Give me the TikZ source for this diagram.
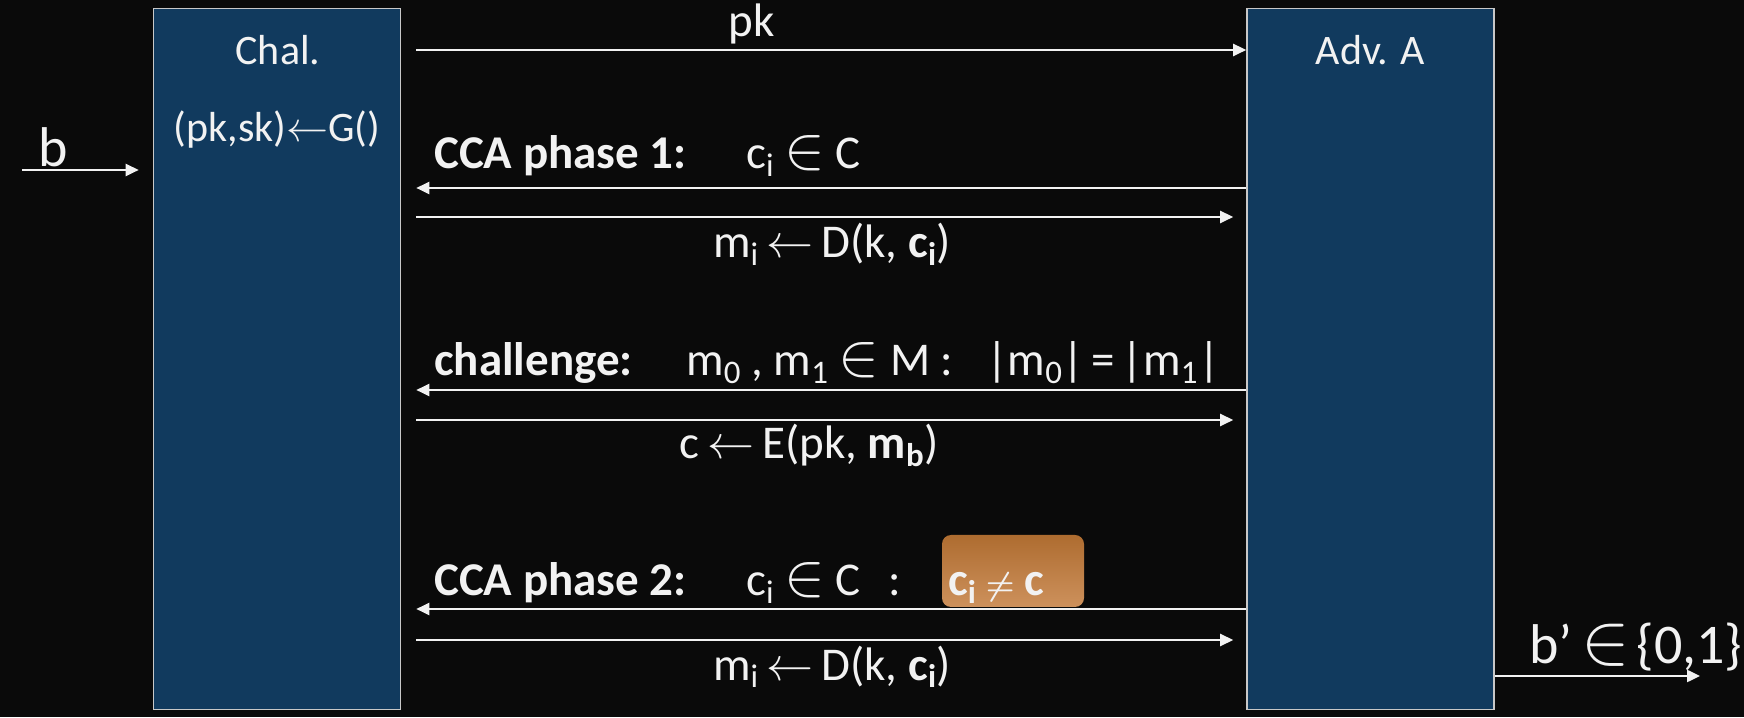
\RequirePackage{fix-cm}
\documentclass[tikz,border=0pt]{standalone}
\usepackage{fontspec}
\usepackage{graphicx}
\setmainfont{Carlito}
\usetikzlibrary{arrows.meta}
\definecolor{bg}{RGB}{10,10,10}
\definecolor{boxfill}{RGB}{17,58,94}
\definecolor{boxline}{RGB}{200,200,200}
\definecolor{txt}{RGB}{242,242,242}
\definecolor{orTop}{RGB}{174,108,48}
\definecolor{orBot}{RGB}{205,145,92}
\newcommand\sbx[1]{\textsubscript{#1}}
\newcommand\EL{\hspace{0.22em}\scalebox{1.3}{$\in$}\hspace{0.22em}}
\newcommand\LA{\,$\leftarrow$\,}
\tikzset{
  party/.style={draw=boxline, fill=boxfill, line width=1.6pt, minimum width=247pt, minimum height=701pt, inner sep=0pt},
  msg/.style={draw=txt, line width=2.4pt, -{Triangle[length=13pt,width=12pt]}},
  lbl/.style={text=txt, font=\fontsize{47}{54}\selectfont, inner sep=0pt, anchor=base west},
  clbl/.style={text=txt, font=\fontsize{47}{54}\selectfont, inner sep=0pt, anchor=base},
  ttl/.style={text=txt, font=\fontsize{42}{48}\selectfont, inner sep=0pt, anchor=base},
  big/.style={text=txt, font=\fontsize{56}{62}\selectfont, inner sep=0pt, anchor=base},
  hl/.style={rounded corners=9pt, top color=orTop, bottom color=orBot, draw=none, minimum width=142pt, minimum height=72pt, inner sep=0pt}
}
\begin{document}
\begin{tikzpicture}[x=1pt,y=1pt]
\fill[bg] (0,0) rectangle (1744,717);
\useasboundingbox (0,0) rectangle (1744,717);
\node[party] (chal) at (277,358) {};
\node[party] (adv) at (1370.5,358) {};
\node[ttl] (chalT) at (278,652) {Chal.};
\node[ttl] (gen) at (277,575) {(pk,sk)$\leftarrow$G()};
\node[ttl] (advT) at (1370.5,652) {Adv. A};
% b input
\coordinate (bin) at (22,547);
\draw[msg] (bin) -- ([xshift=-14pt]chal.west |- bin);
\node[big] (bl) at (53,550) {b};
% pk
\coordinate (pky) at (0,667);
\draw[msg] ([xshift=15pt]chal.east |- pky) -- (adv.west |- pky);
\node[clbl] (pkl) at (752,680) {pk};
% CCA phase 1
\coordinate (c1a) at (0,529);
\coordinate (c1b) at (0,500);
\draw[msg] (adv.west |- c1a) -- ([xshift=15pt]chal.east |- c1a);
\draw[msg] ([xshift=15pt]chal.east |- c1b) -- ([xshift=-13pt]adv.west |- c1b);
\node[lbl] (p1) at (434,548) {\textbf{CCA phase 1:}};
\node[lbl] (q1) at (746,548) {c\sbx{i}\EL C};
\node[clbl] (r1) at (832,459) {m\sbx{i}\LA D(k, \textbf{c\sbx{i}})};
% challenge
\coordinate (cha) at (0,327);
\coordinate (chb) at (0,297);
\draw[msg] (adv.west |- cha) -- ([xshift=15pt]chal.east |- cha);
\draw[msg] ([xshift=15pt]chal.east |- chb) -- ([xshift=-13pt]adv.west |- chb);
\node[lbl] (p2) at (434,341) {\textbf{challenge:}};
\node[lbl] (q2) at (686,341) {m\sbx{0} , m\sbx{1}\EL M :};
\node[lbl] (q2b) at (986,341) {|m\sbx{0}|\hspace{0.15em}=\hspace{0.15em}|m\sbx{1}|};
\node[clbl] (r2) at (809,258) {c\LA E(pk, \textbf{m\sbx{b}})};
% CCA phase 2
\coordinate (c2a) at (0,108);
\coordinate (c2b) at (0,77);
\node[hl] (neq) at (1013,146) {};
\draw[msg] (adv.west |- c2a) -- ([xshift=15pt]chal.east |- c2a);
\draw[msg] ([xshift=15pt]chal.east |- c2b) -- ([xshift=-13pt]adv.west |- c2b);
\node[lbl] (p3) at (434,121) {\textbf{CCA phase 2:}};
\node[lbl] (q3) at (746,121) {c\sbx{i}\EL C\hspace{0.6em}:};
\node[lbl] (neqT) at (948,121) {\textbf{c\sbx{i}\hspace{0.2em}\scalebox{0.7}{\boldmath$\neq$}\hspace{0.2em}c}};
\node[clbl] (r3) at (832,37) {m\sbx{i}\LA D(k, \textbf{c\sbx{i}})};
% output
\coordinate (bout) at (1700,41);
\draw[msg] (adv.east |- bout) -- (bout);
\node[big] (bo) at (1636,53) {b’\hspace{0.15em}\scalebox{1.3}{$\in$}\hspace{0.12em}\{0,1\}};
\end{tikzpicture}
\end{document}
